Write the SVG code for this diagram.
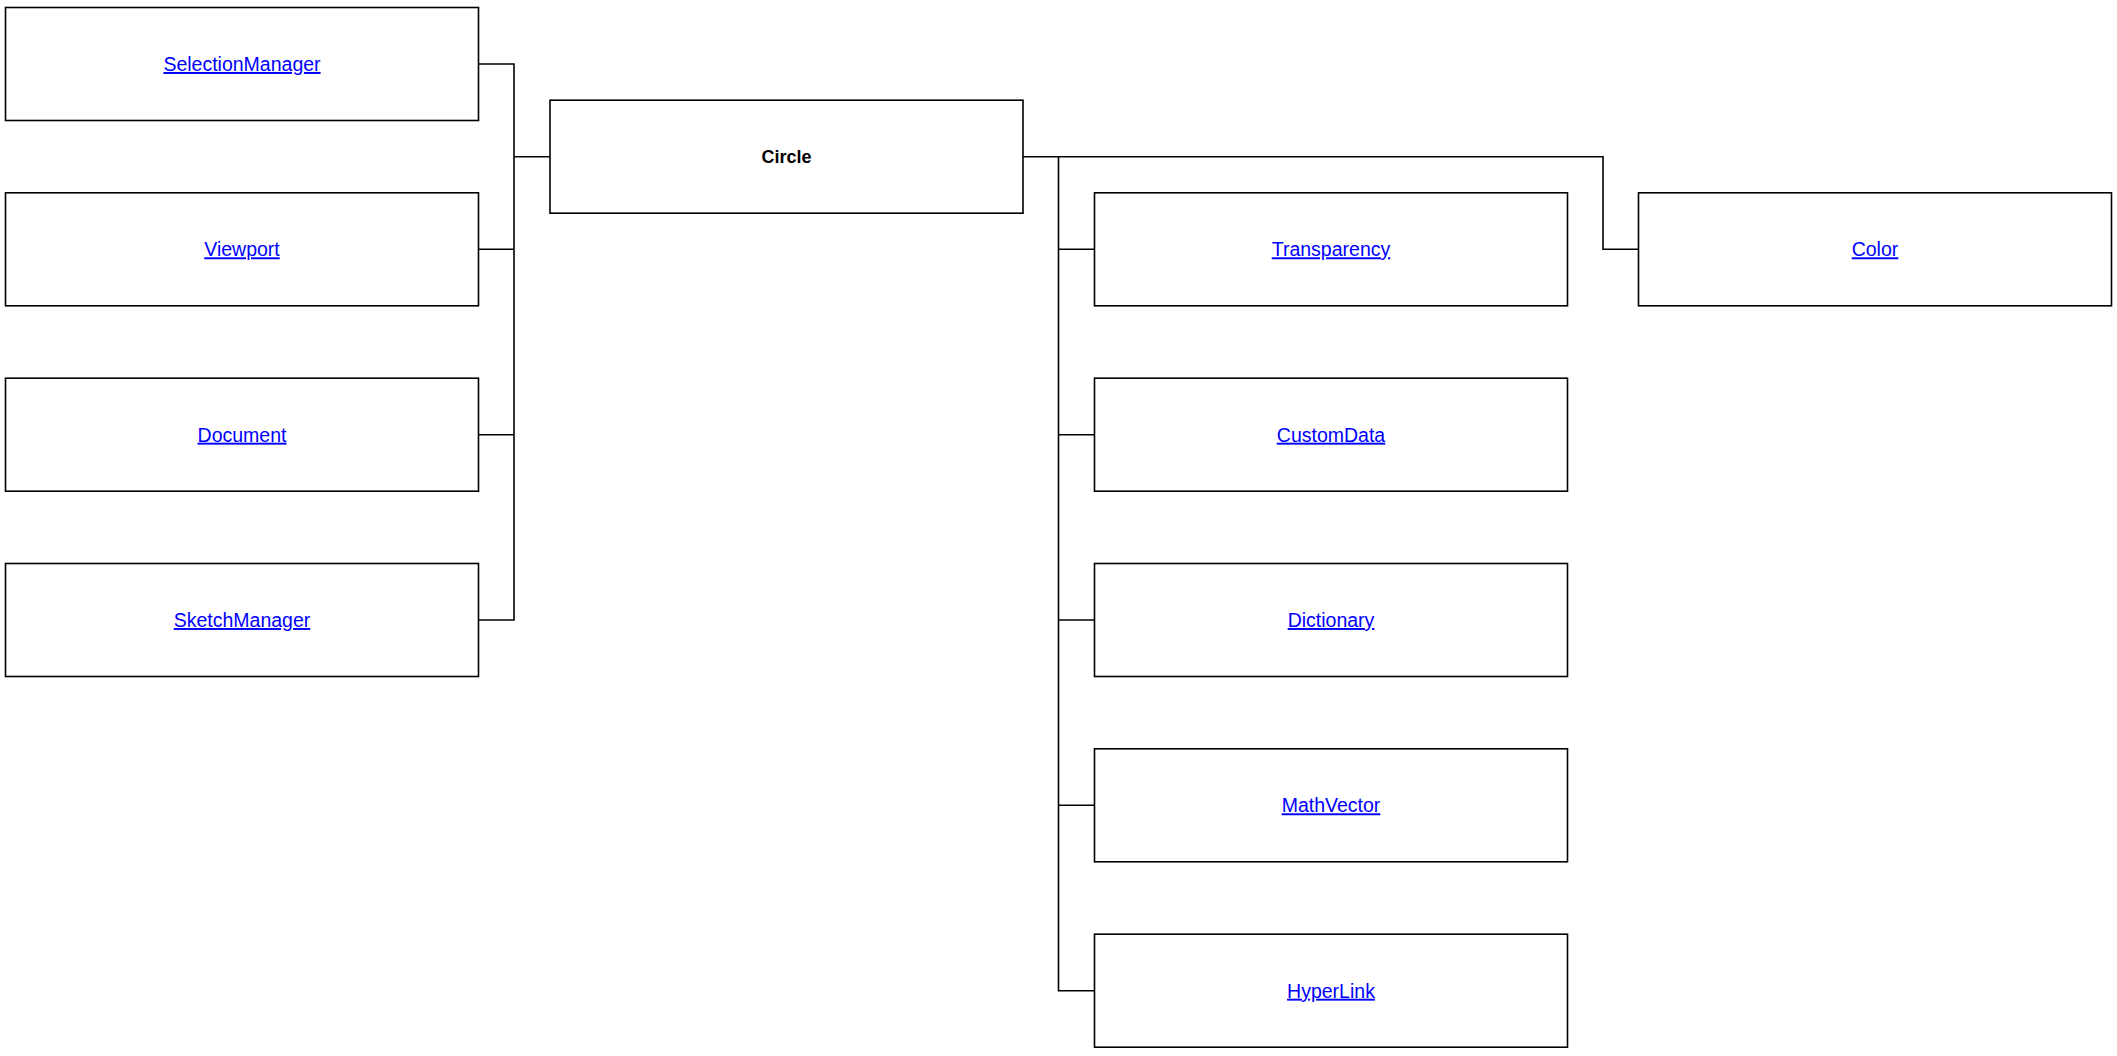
<svg xmlns="http://www.w3.org/2000/svg" width="2117" height="1056" viewBox="0 0 2117 1056">
<style>
.box{fill:#fff;stroke:#000;stroke-width:1.6}
.lbl{font-family:"Liberation Sans",Arial,sans-serif;font-size:19.5px;fill:#0000ff;text-decoration:underline;text-anchor:middle}
.main{font-family:"Liberation Sans",Arial,sans-serif;font-size:18px;font-weight:bold;fill:#000;text-anchor:middle}
.con{fill:none;stroke:#000;stroke-width:1.6}
</style>
<rect width="2117" height="1056" fill="#fff"/>
<g id="connectors">
<path class="con" d="M478.5,64 H514 V620 H478.5"/>
<path class="con" d="M478.5,249.3 H514"/>
<path class="con" d="M478.5,434.7 H514"/>
<path class="con" d="M514,156.7 H550"/>
<path class="con" d="M1023,156.7 H1603 V249.3 H1638.5"/>
<path class="con" d="M1058.5,156.7 V990.7 H1094.5"/>
<path class="con" d="M1058.5,249.3 H1094.5"/>
<path class="con" d="M1058.5,434.7 H1094.5"/>
<path class="con" d="M1058.5,620 H1094.5"/>
<path class="con" d="M1058.5,805.3 H1094.5"/>
</g>
<g id="SelectionManager"><rect class="box" x="5.5" y="7.5" width="473" height="113"/><text class="lbl" x="242" y="71">SelectionManager</text></g>
<g id="Viewport"><rect class="box" x="5.5" y="192.8" width="473" height="113"/><text class="lbl" x="242" y="256.3">Viewport</text></g>
<g id="Document"><rect class="box" x="5.5" y="378.2" width="473" height="113"/><text class="lbl" x="242" y="441.7">Document</text></g>
<g id="SketchManager"><rect class="box" x="5.5" y="563.5" width="473" height="113"/><text class="lbl" x="242" y="627">SketchManager</text></g>
<g id="Circle"><rect class="box" x="550" y="100.2" width="473" height="113"/><text class="main" x="786.5" y="163.2">Circle</text></g>
<g id="Transparency"><rect class="box" x="1094.5" y="192.8" width="473" height="113"/><text class="lbl" x="1331" y="256.3">Transparency</text></g>
<g id="CustomData"><rect class="box" x="1094.5" y="378.2" width="473" height="113"/><text class="lbl" x="1331" y="441.7">CustomData</text></g>
<g id="Dictionary"><rect class="box" x="1094.5" y="563.5" width="473" height="113"/><text class="lbl" x="1331" y="627">Dictionary</text></g>
<g id="MathVector"><rect class="box" x="1094.5" y="748.8" width="473" height="113"/><text class="lbl" x="1331" y="812.3">MathVector</text></g>
<g id="HyperLink"><rect class="box" x="1094.5" y="934.2" width="473" height="113"/><text class="lbl" x="1331" y="997.7">HyperLink</text></g>
<g id="Color"><rect class="box" x="1638.5" y="192.8" width="473" height="113"/><text class="lbl" x="1875" y="256.3">Color</text></g>
</svg>
